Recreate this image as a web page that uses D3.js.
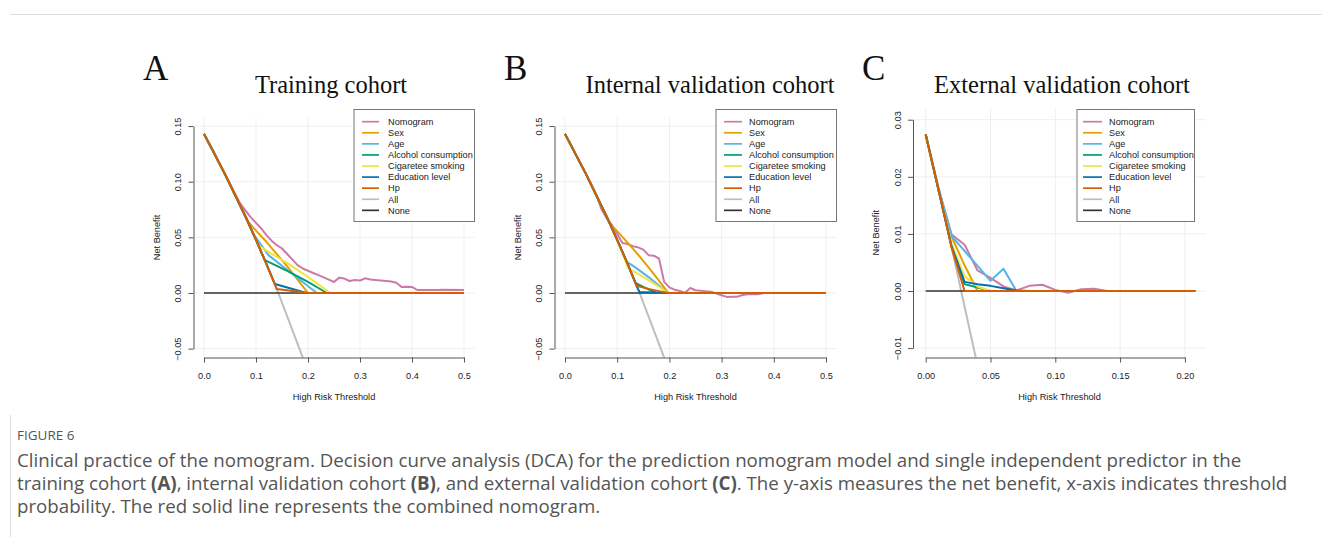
<!DOCTYPE html>
<html><head><meta charset="utf-8">
<script src="https://cdn.jsdelivr.net/npm/d3@7"></script>
<style>body{margin:0;background:#fff;} svg{display:block;}</style>
</head><body>
<svg id="chart" width="1322" height="537"></svg>
<script>
// ---------- shared ----------
const seriesNames = ["Nomogram","Sex","Age","Alcohol consumption","Cigaretee smoking","Education level","Hp","All","None"];
const seriesColors = ["#CC79A7","#E69F00","#56B4E9","#009E73","#F0E442","#0072B2","#D55E00","#BEBEBE","#333333"];
const xTicksAB = [0,0.1,0.2,0.3,0.4,0.5];
const yTicksAB = [-0.05,0,0.05,0.10,0.15];
const xTicksC = [0,0.05,0.10,0.15,0.20];
const yTicksC = [-0.01,0,0.01,0.02,0.03];

// ---------- Panel A : Training cohort ----------
const trainNomogram = [[0,0.143],[0.02,0.126],[0.04,0.107],[0.06,0.089],[0.07,0.080],[0.08,0.074],[0.09,0.068],[0.10,0.063],[0.11,0.058],[0.12,0.052],[0.13,0.047],[0.14,0.043],[0.15,0.040],[0.16,0.035],[0.17,0.030],[0.18,0.025],[0.19,0.022],[0.20,0.020],[0.21,0.018],[0.22,0.016],[0.23,0.014],[0.24,0.012],[0.25,0.0099],[0.26,0.0138],[0.27,0.013],[0.28,0.0108],[0.29,0.0117],[0.30,0.0112],[0.31,0.0132],[0.32,0.0122],[0.33,0.0116],[0.34,0.0112],[0.35,0.0108],[0.36,0.0104],[0.37,0.0092],[0.38,0.0054],[0.39,0.0057],[0.40,0.0055],[0.41,0.0027],[0.45,0.0027],[0.46,0.003],[0.50,0.0027]];
const trainSex = [[0,0.143],[0.04,0.107],[0.085,0.064],[0.10,0.056],[0.12,0.046],[0.14,0.035],[0.16,0.024],[0.18,0.012],[0.20,0],[0.50,0]];
const trainAge = [[0,0.143],[0.04,0.107],[0.08,0.0685],[0.095,0.053],[0.11,0.043],[0.124,0.034],[0.15,0.0245],[0.18,0.0135],[0.217,0],[0.50,0]];
const trainAlcohol = [[0,0.143],[0.04,0.107],[0.08,0.0685],[0.10,0.0478],[0.117,0.0295],[0.14,0.0244],[0.16,0.0198],[0.18,0.015],[0.20,0.0099],[0.22,0.0045],[0.236,0],[0.50,0]];
const trainSmoking = [[0,0.143],[0.04,0.107],[0.08,0.0685],[0.105,0.0425],[0.12,0.038],[0.14,0.0325],[0.16,0.0268],[0.18,0.0207],[0.20,0.0144],[0.22,0.0077],[0.242,0],[0.50,0]];
const trainEducation = [[0,0.143],[0.04,0.107],[0.08,0.0685],[0.10,0.0478],[0.12,0.0261],[0.136,0.0085],[0.14,0.0076],[0.197,0],[0.50,0]];
const trainHp = [[0,0.143],[0.04,0.107],[0.08,0.0685],[0.10,0.0478],[0.12,0.0261],[0.14,0.0035],[0.20,0],[0.50,0]];
const trainAll = [[0,0.143],[0.05,0.098],[0.10,0.0478],[0.143,0],[0.19,-0.058],[0.20,-0.071]];
const trainNone = [[0,0],[0.5,0]];

// ---------- Panel B : Internal validation cohort ----------
const internNomogram = [[0,0.143],[0.02,0.125],[0.04,0.107],[0.06,0.088],[0.07,0.075],[0.08,0.067],[0.09,0.061],[0.10,0.053],[0.11,0.045],[0.12,0.044],[0.13,0.042],[0.14,0.041],[0.15,0.039],[0.16,0.034],[0.17,0.0335],[0.18,0.031],[0.19,0.010],[0.20,0.005],[0.21,0.003],[0.22,0.0018],[0.23,0.0003],[0.24,0.0045],[0.25,0.0025],[0.26,0.002],[0.27,0.0015],[0.28,0.0012],[0.29,-0.0005],[0.30,-0.002],[0.31,-0.0035],[0.32,-0.0033],[0.33,-0.0033],[0.34,-0.0018],[0.35,-0.0012],[0.37,-0.0012],[0.38,0],[0.50,0]];
const internSex = [[0,0.143],[0.04,0.107],[0.08,0.0685],[0.085,0.063],[0.10,0.0556],[0.12,0.0452],[0.14,0.0344],[0.16,0.0231],[0.18,0.0112],[0.198,0],[0.50,0]];
const internAge = [[0,0.143],[0.04,0.107],[0.08,0.0685],[0.10,0.0478],[0.118,0.028],[0.127,0.0255],[0.14,0.0212],[0.16,0.0143],[0.18,0.0068],[0.196,0],[0.50,0]];
const internAlcohol = [[0,0.143],[0.04,0.107],[0.08,0.0685],[0.10,0.0478],[0.12,0.0261],[0.135,0.009],[0.15,0.0055],[0.165,0.0022],[0.176,0],[0.50,0]];
const internSmoking = [[0,0.143],[0.04,0.107],[0.08,0.0685],[0.10,0.0478],[0.121,0.0222],[0.14,0.0171],[0.16,0.0115],[0.18,0.0056],[0.198,0],[0.50,0]];
const internEducation = [[0,0.143],[0.04,0.107],[0.08,0.0685],[0.10,0.0478],[0.12,0.0261],[0.14,0.0035],[0.143,0.0008],[0.20,0],[0.50,0]];
const internHp = [[0,0.143],[0.04,0.107],[0.08,0.0685],[0.10,0.0478],[0.12,0.0261],[0.137,0.0065],[0.16,0.0037],[0.18,0.0017],[0.198,0],[0.50,0]];
const internAll = [[0,0.143],[0.05,0.098],[0.10,0.0478],[0.143,0],[0.19,-0.058],[0.20,-0.071]];
const internNone = [[0,0],[0.5,0]];

// ---------- Panel C : External validation cohort ----------
const externNomogram = [[0,0.0274],[0.01,0.0180],[0.02,0.0099],[0.03,0.0081],[0.04,0.0036],[0.05,0.0023],[0.06,0.0008],[0.07,0.0001],[0.08,0.0009],[0.09,0.0011],[0.10,0.0002],[0.11,-0.0003],[0.12,0.0003],[0.13,0.0004],[0.14,0],[0.208,0]];
const externSex = [[0,0.0274],[0.01,0.0176],[0.02,0.0095],[0.03,0.0045],[0.04,0],[0.208,0]];
const externAge = [[0,0.0274],[0.01,0.0178],[0.02,0.0096],[0.03,0.0070],[0.04,0.0044],[0.05,0.0018],[0.06,0.0039],[0.07,0],[0.208,0]];
const externAlcohol = [[0,0.0274],[0.01,0.0176],[0.02,0.0078],[0.03,0.0012],[0.04,0.0006],[0.05,0],[0.208,0]];
const externSmoking = [[0,0.0274],[0.01,0.0176],[0.02,0.0082],[0.03,0.0026],[0.04,0.0008],[0.05,0],[0.208,0]];
const externEducation = [[0,0.0274],[0.01,0.0176],[0.02,0.0078],[0.03,0.0016],[0.04,0.0012],[0.05,0.0009],[0.06,0.0005],[0.07,0.0001],[0.08,0],[0.208,0]];
const externHp = [[0,0.0274],[0.01,0.0176],[0.02,0.0076],[0.03,0],[0.208,0]];
const externAll = [[0,0.0274],[0.01,0.0176],[0.02,0.0076],[0.03,-0.0027],[0.04,-0.0131]];
const externNone = [[0,0],[0.208,0]];

const panelLetters = ["A","B","C"];
const panelTitles = ["Training cohort","Internal validation cohort","External validation cohort"];

const panels = [
  {letter:panelLetters[0], title:panelTitles[0], series:[trainNomogram,trainSex,trainAge,trainAlcohol,trainSmoking,trainEducation,trainHp,trainAll,trainNone],
   xDom:[0,0.5], xR:[204,464], yDom:[-0.05,0.15], yR:[348.65,126.05], box:[193.5,474.5,117.5,357.5],
   xTicks:xTicksAB, yTicks:yTicksAB, xFmt:d3.format(".1f"), yFmt:d3.format(".2f"),
   letterX:143, titleX:331, legend:{x0:354,x1:474.5,lx0:362,lx1:379,tx:388}},
  {letter:panelLetters[1], title:panelTitles[1], series:[internNomogram,internSex,internAge,internAlcohol,internSmoking,internEducation,internHp,internAll,internNone],
   xDom:[0,0.5], xR:[565,826], yDom:[-0.05,0.15], yR:[348.65,126.05], box:[554.5,836.5,117.5,357.5],
   xTicks:xTicksAB, yTicks:yTicksAB, xFmt:d3.format(".1f"), yFmt:d3.format(".2f"),
   letterX:504, titleX:710, legend:{x0:716,x1:836.5,lx0:724,lx1:742,tx:749}},
  {letter:panelLetters[2], title:panelTitles[2], series:[externNomogram,externSex,externAge,externAlcohol,externSmoking,externEducation,externHp,externAll,externNone],
   xDom:[0,0.2], xR:[925.7,1184.9], yDom:[-0.01,0.03], yR:[348.1,119.7], box:[913,1206,108,357.5],
   xTicks:xTicksC, yTicks:yTicksC, xFmt:d3.format(".2f"), yFmt:d3.format(".2f"),
   letterX:862, titleX:1062, legend:{x0:1077,x1:1194.5,lx0:1083,lx1:1102,tx:1109}}
];

const svg = d3.select("#chart");
const drawOrder = [7,8,0,1,2,3,4,5,6];
const F = "Liberation Sans, Arial, sans-serif";

panels.forEach((p,pi)=>{
  const x = d3.scaleLinear().domain(p.xDom).range(p.xR);
  const y = d3.scaleLinear().domain(p.yDom).range(p.yR);
  const g = svg.append("g");
  const [bx0,bx1,by0,by1] = p.box;
  const clipId = "clip"+pi;
  svg.append("clipPath").attr("id",clipId).append("rect")
    .attr("x",bx0).attr("y",by0).attr("width",bx1-bx0).attr("height",by1-by0);

  // grid
  const grid = g.append("g").attr("stroke","#efefef").attr("stroke-width",1);
  p.xTicks.forEach(t=>grid.append("line").attr("x1",x(t)).attr("x2",x(t)).attr("y1",by0).attr("y2",by1));
  p.yTicks.forEach(t=>grid.append("line").attr("x1",bx0).attr("x2",bx1).attr("y1",y(t)).attr("y2",y(t)));

  // lines
  const line = d3.line().x(d=>x(d[0])).y(d=>y(d[1]));
  const lg = g.append("g").attr("clip-path",`url(#${clipId})`);
  drawOrder.forEach(i=>{
    lg.append("path").datum(p.series[i]).attr("d",line).attr("fill","none")
      .attr("stroke",seriesColors[i]).attr("stroke-width",i===8?1.4:2)
      .attr("stroke-linejoin","round");
  });

  // x axis
  const xa = g.append("g").attr("transform",`translate(0,${by1})`)
    .call(d3.axisBottom(x).tickValues(p.xTicks).tickFormat(p.xFmt).tickSize(5).tickSizeOuter(0).tickPadding(10));
  xa.select(".domain").attr("stroke","#555");
  xa.selectAll(".tick line").attr("stroke","#555");
  xa.selectAll("text").attr("font-family",F).attr("font-size","9.2px").attr("fill","#222");
  // y axis
  const ya = g.append("g").attr("transform",`translate(${bx0},0)`)
    .call(d3.axisLeft(y).tickValues(p.yTicks).tickFormat(p.yFmt).tickSize(5).tickSizeOuter(0));
  ya.select(".domain").attr("stroke","#555");
  ya.selectAll(".tick line").attr("stroke","#555");
  ya.selectAll("text").attr("font-family",F).attr("font-size","9.2px").attr("fill","#222")
    .attr("x",null).attr("dy",null)
    .attr("text-anchor","middle")
    .attr("transform","translate(-12.5,0) rotate(-90)");

  // axis titles
  g.append("text").attr("x",(bx0+bx1)/2).attr("y",400).attr("text-anchor","middle")
    .attr("font-family",F).attr("font-size","9.2px").attr("fill","#222").text("High Risk Threshold");
  g.append("text").attr("transform",`translate(${bx0-34},${(by0+by1)/2}) rotate(-90)`).attr("text-anchor","middle")
    .attr("font-family",F).attr("font-size","9.2px").attr("fill","#222").text("Net Benefit");

  // titles
  g.append("text").attr("x",p.letterX).attr("y",80).attr("font-family","Liberation Serif, Times New Roman, serif")
    .attr("font-size","35px").attr("fill","#111").text(p.letter);
  g.append("text").attr("x",p.titleX).attr("y",93).attr("text-anchor","middle").attr("font-family","Liberation Serif, Times New Roman, serif")
    .attr("font-size","24.5px").attr("fill","#111").text(p.title);

  // legend
  const L = p.legend;
  g.append("rect").attr("x",L.x0).attr("y",109.5).attr("width",L.x1-L.x0).attr("height",112)
    .attr("fill","#fff").attr("stroke","#777").attr("stroke-width",1);
  seriesNames.forEach((n,i)=>{
    const yy = 121.7 + i*11.08;
    g.append("line").attr("x1",L.lx0).attr("x2",L.lx1).attr("y1",yy).attr("y2",yy)
      .attr("stroke",seriesColors[i]).attr("stroke-width",1.7);
    g.append("text").attr("x",L.tx).attr("y",yy+3.3).attr("font-family",F).attr("font-size","9.2px")
      .attr("fill","#222").text(n);
  });
});

// frame lines
svg.append("line").attr("x1",10).attr("x2",1322).attr("y1",14.5).attr("y2",14.5).attr("stroke","#ddd");
svg.append("line").attr("x1",10.5).attr("x2",10.5).attr("y1",415).attr("y2",537).attr("stroke","#ddd");

// caption
const capFont = "Open Sans, Noto Sans, sans-serif";
svg.append("text").attr("x",17).attr("y",440).attr("font-family",capFont).attr("font-size","13.5px")
  .attr("fill","#555").text("FIGURE 6");
const captionLines = [
  [["Clinical practice of the nomogram. Decision curve analysis (DCA) for the prediction nomogram model and single independent predictor in the",false]],
  [["training cohort ",false],["(A)",true],[", internal validation cohort ",false],["(B)",true],[", and external validation cohort ",false],["(C)",true],[". The y-axis measures the net benefit, x-axis indicates threshold",false]],
  [["probability. The red solid line represents the combined nomogram.",false]]
];
captionLines.forEach((ln,i)=>{
  const t = svg.append("text").attr("x",17).attr("y",467+i*23).attr("font-family",capFont)
    .attr("font-size","18.7px").attr("fill","#555");
  ln.forEach(s=>t.append("tspan").attr("font-weight",s[1]?"700":"400").text(s[0]));
});
</script>
</body></html>
